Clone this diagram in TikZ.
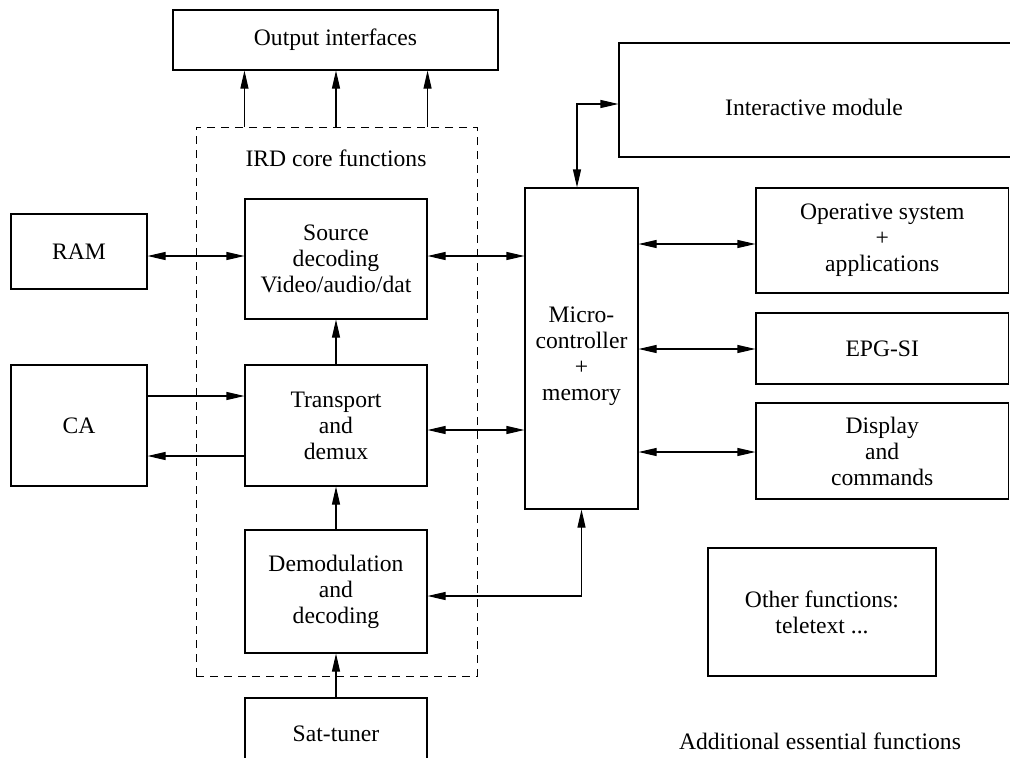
\documentclass[tikz,border=0pt]{standalone}
\usepackage{fontspec}
\setmainfont{Liberation Serif}
\usetikzlibrary{arrows.meta,fit}
\begin{document}
\begin{tikzpicture}[x=1pt,y=-1pt,
  font=\fontsize{23.6}{26}\selectfont,
  line width=1.1pt,
  every node/.style={align=center,inner sep=0pt},
  blk/.style={draw,minimum width=#1},
  blk/.default=182pt,
  link/.style={{Triangle[length=18pt,width=8pt]}-{Triangle[length=18pt,width=8pt]}},
  fwd/.style={-{Triangle[length=18pt,width=8pt]}},
  coreline/.style={draw,dash pattern=on 8pt off 6pt,line width=1pt}]

\useasboundingbox (0,0) rectangle (1010,758);
\clip (0,0) rectangle (1010,758);

% IRD core blocks
\node[blk=325pt,minimum height=60pt]  (out) at (335.5,40)   {Output interfaces};
\node[blk,minimum height=120pt]       (src) at (336,259)    {Source\\decoding\\Video/audio/dat};
\node[blk,minimum height=121pt]       (trn) at (336,425.5)  {Transport\\and\\demux};
\node[blk,minimum height=123pt]       (dem) at (336,591.5)  {Demodulation\\and\\decoding};
\node[blk,minimum height=72pt]        (sat) at (336,734)    {Sat-tuner};

% left-hand side
\node[blk=136pt,minimum height=75pt]  (ram) at (79,251.5)   {RAM};
\node[blk=136pt,minimum height=121pt] (ca)  at (79,425.5)   {CA};

% controller and additional functions
\node[blk=113pt,minimum height=321pt] (mic) at (581.5,348.5) {};
\node (miclbl) at (581.5,356) {Micro-\\controller\\+\\memory};
\node[blk=396pt,minimum height=114pt] (int) at (817,100)    {};
\node (intlbl) at (814,107) {Interactive module};
\node[blk=252.5pt,minimum height=105pt] (ops) at (882.25,240.5) {Operative system\\+\\applications};
\node[blk=252.5pt,minimum height=71pt]  (epg) at (882.25,348.5) {EPG-SI};
\node[blk=252.5pt,minimum height=96pt]  (dsp) at (882.25,451)   {Display\\and\\commands};
\node[blk=228pt,minimum height=128pt]   (oth) at (822,612)      {Other functions:\\teletext ...};

% dashed frame around the core functions
\coordinate (coreNW) at (196,127);
\coordinate (coreSE) at (477,676);
\node[coreline,fit=(coreNW)(coreSE),inner sep=0pt] (core) {};
\node (corelbl) at (336,158) {IRD core functions};
\node (addlbl)  at (820,741) {Additional essential functions};

% outputs of the core
\draw[fwd] (core.north -| src.west) -- (out.south -| src.west);
\draw[fwd] (core.north -| src.north) -- (out.south -| src.north);
\draw[fwd] (core.north -| src.east) -- (out.south -| src.east);

% signal chain
\draw[fwd] (sat.north) -- (dem.south);
\draw[fwd] (dem.north) -- (trn.south);
\draw[fwd] (trn.north) -- (src.south);

% memory and conditional access
\draw[link] ([yshift=-4.5pt]ram.east) -- ([yshift=-4.5pt]ram.east -| src.west);
\draw[fwd] ([yshift=29.5pt]trn.west -| ca.east) -- ([yshift=29.5pt]trn.west);
\draw[fwd] ([yshift=-30.5pt]trn.west) -- ([yshift=-30.5pt]trn.west -| ca.east);

% controller links
\draw[link] ([yshift=3pt]src.east) -- ([yshift=3pt]src.east -| mic.west);
\draw[link] ([yshift=-4.5pt]trn.east) -- ([yshift=-4.5pt]trn.east -| mic.west);
\draw[link] ([yshift=-4.5pt]dem.east) -| (mic.south);
\draw[link] ([xshift=-4.5pt]mic.north) |- ([yshift=-4pt]int.west);
\draw[link] ([yshift=-3.5pt]ops.west -| mic.east) -- ([yshift=-3.5pt]ops.west);
\draw[link] ([yshift=-0.5pt]epg.west -| mic.east) -- ([yshift=-0.5pt]epg.west);
\draw[link] ([yshift=-1pt]dsp.west -| mic.east) -- ([yshift=-1pt]dsp.west);
\end{tikzpicture}
\end{document}
